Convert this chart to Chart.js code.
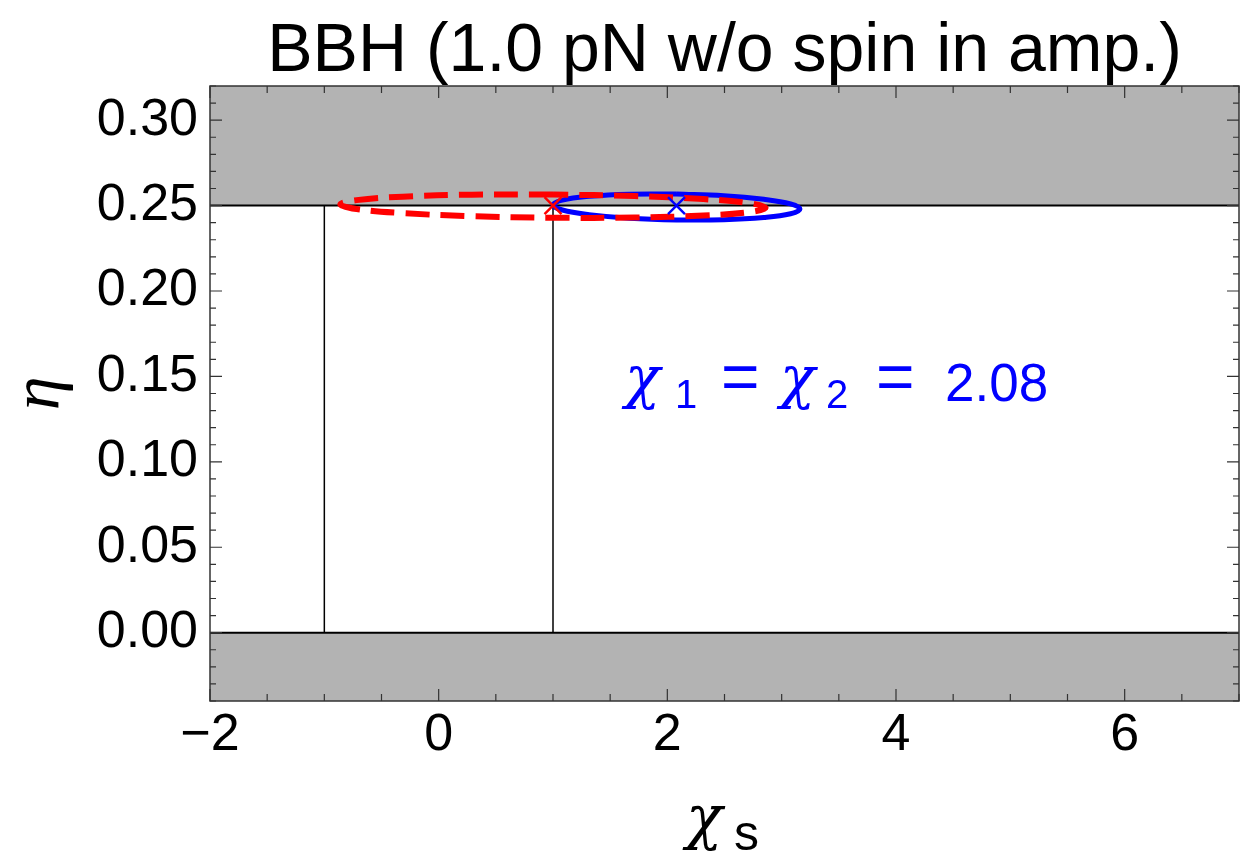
<!DOCTYPE html>
<html>
<head>
<meta charset="utf-8">
<script src="https://cdn.jsdelivr.net/npm/chart.js@4.4.1/dist/chart.umd.min.js"></script>
<style>
  html, body { margin: 0; background: #fff; }
  #wrap { width: 1243px; height: 855px; }
</style>
</head>
<body>
<div id="wrap"><canvas id="chart" width="1243" height="855"></canvas></div>
<script>
// --- values ---
const titleText = 'BBH (1.0 pN w/o spin in amp.)';
const xRange = [-2, 7];
const yRange = [-0.04, 0.32];
const xTickLabels = [-2, 0, 2, 4, 6];
const yTickLabels = [0.00, 0.05, 0.10, 0.15, 0.20, 0.25, 0.30];
const etaLimits = [0, 0.25];   // gray outside these
const chiLimits = [-1, 1];     // vertical guide lines

// red dashed ellipse (true value at chi_s = 1)
const redEllipseX = [1.000, 0.288, -0.315, -0.718, -0.860, -0.718, -0.315, 0.288, 1.000, 1.712, 2.315, 2.718, 2.860, 2.718, 2.315, 1.712, 1.000];
const redEllipseY = [0.2565, 0.2564, 0.2552, 0.2532, 0.2507, 0.2480, 0.2456, 0.2438, 0.2429, 0.2430, 0.2442, 0.2462, 0.2487, 0.2514, 0.2538, 0.2556, 0.2565];
// blue solid ellipse (chi_1 = chi_2 = 2.08)
const blueEllipseX = [2.080, 1.666, 1.316, 1.082, 1.000, 1.082, 1.316, 1.666, 2.080, 2.494, 2.844, 3.078, 3.160, 3.078, 2.844, 2.494, 2.080];
const blueEllipseY = [0.2568, 0.2567, 0.2554, 0.2532, 0.2504, 0.2474, 0.2447, 0.2426, 0.2416, 0.2417, 0.2430, 0.2452, 0.2480, 0.2510, 0.2537, 0.2558, 0.2568];
const redCenter = [1.0, 0.25];
const blueCenter = [2.08, 0.25];

const SANS = '"Liberation Sans", Arial, Helvetica, sans-serif';
const SERIF = '"Liberation Serif", "Times New Roman", serif';
const GREEK = '"DejaVu Serif", "Liberation Serif", serif';
const GRAY = '#b3b3b3';

const zip = (xs, ys) => xs.map((x, i) => ({ x, y: ys[i] }));
const seg = (x0, y0, x1, y1) => [{ x: x0, y: y0 }, { x: x1, y: y1 }];

// minor ticks every 0.5 in x and 0.01 in y
const xMinor = [], yMinor = [];
for (let i = 0; i <= 18; i++) { const v = xRange[0] + i * 0.5; if (!xTickLabels.includes(v)) xMinor.push(v); }
for (let i = 0; i <= 36; i++) { const v = Math.round((yRange[0] + i * 0.01) * 100) / 100; if (Math.round(v * 100) % 5 !== 0) yMinor.push(v); }

const lineDs = (data, color, width, order, extra) => Object.assign({
    data, borderColor: color, borderWidth: width, pointRadius: 0, fill: false, order, tension: 0
}, extra || {});

const datasets = [
    // gray regions outside 0 <= eta <= 0.25
    lineDs(seg(xRange[0], yRange[1], xRange[1], yRange[1]), 'rgba(0,0,0,0)', 0, 20, { fill: { value: etaLimits[1] }, backgroundColor: GRAY }),
    lineDs(seg(xRange[0], etaLimits[0], xRange[1], etaLimits[0]), 'rgba(0,0,0,0)', 0, 20, { fill: { value: yRange[0] }, backgroundColor: GRAY }),
    // boundary lines
    lineDs(seg(xRange[0], etaLimits[1], xRange[1], etaLimits[1]), '#000', 2, 10),
    lineDs(seg(xRange[0], etaLimits[0], xRange[1], etaLimits[0]), '#000', 2, 10),
    lineDs(seg(chiLimits[0], etaLimits[0], chiLimits[0], etaLimits[1]), '#000', 1.5, 10),
    lineDs(seg(chiLimits[1], etaLimits[0], chiLimits[1], etaLimits[1]), '#000', 1.5, 10),
    // ellipses
    lineDs(zip(blueEllipseX, blueEllipseY), '#0000ff', 5, 3, { tension: 0.4 }),
    lineDs(zip(redEllipseX, redEllipseY), '#ff0000', 6, 2, { tension: 0.4, borderDash: [24, 11] }),
    // centre markers
    { data: [{ x: blueCenter[0], y: blueCenter[1] }], showLine: false, pointStyle: 'crossRot', pointRadius: 12,
      borderColor: '#0000ff', pointBorderColor: '#0000ff', pointBorderWidth: 2.4, order: 1 },
    { data: [{ x: redCenter[0], y: redCenter[1] }], showLine: false, pointStyle: 'crossRot', pointRadius: 12,
      borderColor: '#ff0000', pointBorderColor: '#ff0000', pointBorderWidth: 2.4, order: 0 }
];

const put = (ctx, text, x, y, font, align) => {
    ctx.font = font;
    ctx.textAlign = align || 'left';
    ctx.textBaseline = 'alphabetic';
    ctx.fillText(text, x, y);
};

const frameAndText = {
    id: 'frameAndText',
    afterDraw(chart) {
        const { ctx, chartArea: a, scales: { x, y } } = chart;
        ctx.save();
        // frame
        ctx.strokeStyle = '#333';
        ctx.lineWidth = 1.5;
        ctx.strokeRect(a.left, a.top, a.right - a.left, a.bottom - a.top);
        // inward ticks on all sides
        ctx.lineWidth = 1.2;
        const ticks = (vals, len, horiz) => {
            ctx.beginPath();
            vals.forEach(v => {
                if (horiz) {
                    const p = x.getPixelForValue(v);
                    ctx.moveTo(p, a.bottom); ctx.lineTo(p, a.bottom - len);
                    ctx.moveTo(p, a.top); ctx.lineTo(p, a.top + len);
                } else {
                    const p = y.getPixelForValue(v);
                    ctx.moveTo(a.left, p); ctx.lineTo(a.left + len, p);
                    ctx.moveTo(a.right, p); ctx.lineTo(a.right - len, p);
                }
            });
            ctx.stroke();
        };
        ticks(xTickLabels, 12, true);
        ticks(xMinor, 7, true);
        ticks(yTickLabels, 12, false);
        ticks(yMinor, 6, false);

        // title
        ctx.fillStyle = '#000';
        put(ctx, titleText, (a.left + a.right) / 2, 71, `68px ${SANS}`, 'center');

        // y axis label (rotated)
        ctx.save();
        ctx.translate(59, (a.top + a.bottom) / 2);
        ctx.rotate(-Math.PI / 2);
        put(ctx, 'η', 0, 0, `italic 68px ${SERIF}`, 'center');
        ctx.restore();

        // x axis label
        put(ctx, 'χ', 686, 838, `italic 60px ${GREEK}`);
        put(ctx, 's', 734, 850, `50px ${SANS}`);

        // annotation
        ctx.fillStyle = '#0000ff';
        put(ctx, 'χ', 625, 397, `italic 58px ${GREEK}`);
        put(ctx, '1', 675, 408, `40px ${SANS}`);
        put(ctx, '=', 721, 399, `66px ${SANS}`);
        put(ctx, 'χ', 780, 397, `italic 58px ${GREEK}`);
        put(ctx, '2', 826, 408, `40px ${SANS}`);
        put(ctx, '=', 876, 399, `66px ${SANS}`);
        put(ctx, '2.08', 945, 401, `53px ${SANS}`);
        ctx.restore();
    }
};

const minus = v => (v < 0 ? '\u2212' + Math.abs(v) : String(v));

new Chart(document.getElementById('chart'), {
    type: 'line',
    data: { datasets },
    options: {
        responsive: false,
        animation: false,
        devicePixelRatio: 1,
        layout: { autoPadding: false, padding: { top: 86, right: 4, left: 0, bottom: 0 } },
        plugins: { legend: { display: false }, tooltip: { enabled: false }, title: { display: false } },
        scales: {
            x: {
                type: 'linear', min: xRange[0], max: xRange[1],
                border: { display: false },
                grid: { display: false, drawTicks: false },
                ticks: { autoSkip: false, maxRotation: 0, padding: 3, color: '#000',
                         font: { family: SANS, size: 52 }, callback: v => minus(v) },
                afterBuildTicks: s => { s.ticks = xTickLabels.map(v => ({ value: v })); },
                afterFit: s => { s.height = 154; }
            },
            y: {
                type: 'linear', min: yRange[0], max: yRange[1],
                border: { display: false },
                grid: { display: false, drawTicks: false },
                ticks: { autoSkip: false, padding: 12, color: '#000',
                         font: { family: SANS, size: 52 }, callback: v => v.toFixed(2) },
                afterBuildTicks: s => { s.ticks = yTickLabels.map(v => ({ value: v })); },
                afterFit: s => { s.width = 210; }
            }
        }
    },
    plugins: [frameAndText]
});
</script>
</body>
</html>
